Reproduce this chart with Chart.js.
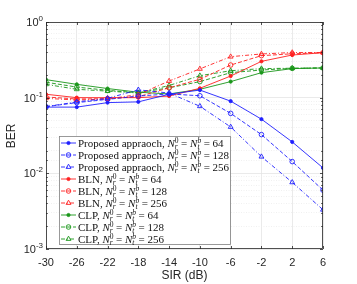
<!DOCTYPE html>
<html lang="en">
<head>
<meta charset="UTF-8">
<title>BER vs SIR</title>
<script src="https://cdn.jsdelivr.net/npm/chart.js@4.4.0/dist/chart.umd.min.js"></script>
<style>
  html, body { margin: 0; padding: 0; background: #fff; }
  #wrap { width: 357px; height: 284px; }
</style>
</head>
<body>
<div id="wrap"><canvas id="ber" width="357" height="284"></canvas></div>
<script>
// SIR values (dB)
const sir = [-30, -26, -22, -18, -14, -10, -6, -2, 2, 6];

// BER
const prop64  = [0.075, 0.075, 0.086, 0.088, 0.111, 0.126, 0.090, 0.052, 0.026, 0.0118];
const prop128 = [0.076, 0.086, 0.095, 0.105, 0.112, 0.106, 0.062, 0.0325, 0.0143, 0.0060];
const prop256 = [0.076, 0.088, 0.098, 0.127, 0.115, 0.077, 0.041, 0.0166, 0.0076, 0.0033];
const bln64   = [0.111, 0.100, 0.100, 0.100, 0.105, 0.133, 0.193, 0.302, 0.366, 0.393];
const bln128  = [0.102, 0.096, 0.097, 0.103, 0.135, 0.175, 0.270, 0.359, 0.380, 0.393];
const bln256  = [0.098, 0.093, 0.096, 0.110, 0.166, 0.240, 0.348, 0.378, 0.395, 0.395];
const clp64   = [0.173, 0.150, 0.132, 0.118, 0.112, 0.129, 0.163, 0.214, 0.242, 0.247];
const clp128  = [0.160, 0.138, 0.125, 0.116, 0.135, 0.163, 0.214, 0.232, 0.244, 0.247];
const clp256  = [0.150, 0.129, 0.122, 0.115, 0.145, 0.195, 0.227, 0.242, 0.245, 0.247];

// legend: method name and antenna count
const methods = ['Proposed appraoch', 'BLN', 'CLP'];
const antennas = [64, 128, 256];

const colors = ['#1f1fff', '#ff2020', '#1a961a'];
const dashes = [[], [4, 2], [4, 2, 1, 2]];
const markers = [
    { pointStyle: 'circle', radius: 1.6, fill: true },
    { pointStyle: 'circle', radius: 2.3, fill: false },
    { pointStyle: 'triangle', radius: 2.8, fill: false }
];
const series = [[prop64, prop128, prop256], [bln64, bln128, bln256], [clp64, clp128, clp256]];

const datasets = [];
methods.forEach((m, i) => {
    antennas.forEach((n, j) => {
        datasets.push({
            label: m + ', ' + n,
            method: m,
            ant: n,
            data: sir.map((x, k) => ({ x: x, y: series[i][j][k] })),
            borderColor: colors[i],
            backgroundColor: markers[j].fill ? colors[i] : 'rgba(255,255,255,0)',
            borderWidth: 0.9,
            borderDash: dashes[j],
            pointStyle: markers[j].pointStyle,
            pointRadius: markers[j].radius,
            pointBorderWidth: 0.9,
            pointBackgroundColor: markers[j].fill ? colors[i] : 'rgba(255,255,255,0)',
            pointBorderColor: colors[i],
            fill: false,
            tension: 0
        });
    });
});

const axisColor = '#262626';
const sansFont = '"Liberation Sans", Arial, sans-serif';
const serifFont = '"Liberation Serif", "Times New Roman", serif';

// axes box, inward ticks, y labels, titles and legend
const matlabLook = {
    id: 'matlabLook',
    afterDraw(chart) {
        const ctx = chart.ctx;
        const a = chart.chartArea;
        const xs = chart.scales.x, ys = chart.scales.y;
        ctx.save();

        // box
        ctx.strokeStyle = axisColor;
        ctx.lineWidth = 0.8;
        ctx.strokeRect(a.left + 0.5, a.top + 0.5, a.right - a.left - 1, a.bottom - a.top - 1);

        // x ticks inward
        ctx.beginPath();
        xs.ticks.forEach(t => {
            const px = Math.round(xs.getPixelForValue(t.value)) + 0.5;
            ctx.moveTo(px, a.bottom); ctx.lineTo(px, a.bottom - 3);
            ctx.moveTo(px, a.top); ctx.lineTo(px, a.top + 3);
        });
        // y ticks inward
        ys.ticks.forEach(t => {
            const py = Math.round(ys.getPixelForValue(t.value)) + 0.5;
            const major = Math.abs(Math.log10(t.value) - Math.round(Math.log10(t.value))) < 1e-6;
            const len = major ? 3 : 1.8;
            ctx.moveTo(a.left, py); ctx.lineTo(a.left + len, py);
            ctx.moveTo(a.right, py); ctx.lineTo(a.right - len, py);
        });
        ctx.stroke();

        // y tick labels 10^k
        ctx.fillStyle = axisColor;
        ctx.textBaseline = 'alphabetic';
        [0, -1, -2, -3].forEach(k => {
            const py = ys.getPixelForValue(Math.pow(10, k));
            ctx.font = '8px ' + sansFont;
            const ew = ctx.measureText(String(k)).width;
            ctx.textAlign = 'right';
            ctx.fillText(String(k), a.left - 3, py - 1);
            ctx.font = '11px ' + sansFont;
            ctx.fillText('10', a.left - 3 - ew, py + 4);
        });

        // axis titles
        ctx.font = '12px ' + sansFont;
        ctx.textAlign = 'center';
        ctx.textBaseline = 'middle';
        ctx.fillText('SIR (dB)', (a.left + a.right) / 2, 276);
        ctx.save();
        ctx.translate(12, 136);
        ctx.rotate(-Math.PI / 2);
        ctx.fillText('BER', 0, 0);
        ctx.restore();

        // legend box
        const lx = 59, ly = 136, lw = 171, lh = 108;
        ctx.fillStyle = '#fff';
        ctx.fillRect(lx, ly, lw, lh);
        ctx.strokeStyle = '#808080';
        ctx.lineWidth = 0.8;
        ctx.strokeRect(lx + 0.5, ly + 0.5, lw, lh);

        chart.data.datasets.forEach((ds, i) => {
            const cy = ly + 7 + i * 12;
            // line sample
            ctx.strokeStyle = ds.borderColor;
            ctx.lineWidth = 0.9;
            ctx.setLineDash(ds.borderDash);
            ctx.beginPath();
            ctx.moveTo(lx + 2, cy); ctx.lineTo(lx + 17, cy);
            ctx.stroke();
            ctx.setLineDash([]);
            // marker
            ctx.fillStyle = ds.pointBackgroundColor;
            ctx.strokeStyle = ds.pointBorderColor;
            ctx.beginPath();
            if (ds.pointStyle === 'circle') {
                ctx.arc(lx + 9.5, cy, ds.pointRadius, 0, Math.PI * 2);
            } else {
                const r = ds.pointRadius;
                ctx.moveTo(lx + 9.5, cy - r);
                ctx.lineTo(lx + 9.5 + r * 0.87, cy + r * 0.5);
                ctx.lineTo(lx + 9.5 - r * 0.87, cy + r * 0.5);
                ctx.closePath();
            }
            ctx.fill(); ctx.stroke();

            // label text with N_r^0 = N_t^b
            ctx.fillStyle = '#111';
            ctx.textAlign = 'left';
            ctx.textBaseline = 'alphabetic';
            let x = lx + 19;
            const base = cy + 3.5;
            const put = (txt, font, dy) => {
                ctx.font = font;
                ctx.fillText(txt, x, base + (dy || 0));
                return ctx.measureText(txt).width;
            };
            const norm = '11px ' + serifFont;
            const ital = 'italic 11px ' + serifFont;
            const small = '7.5px ' + serifFont;
            const smallI = 'italic 7.5px ' + serifFont;
            x += put(ds.method + ', ', norm);
            x += put('N', ital);
            let w1 = put('0', small, -4);
            let w2 = put('r', smallI, 2.5);
            x += Math.max(w1, w2) + 2.5;
            x += put('= ', norm);
            x += put('N', ital);
            w1 = put('b', smallI, -4);
            w2 = put('t', smallI, 2.5);
            x += Math.max(w1, w2) + 2.5;
            x += put('= ' + ds.ant, norm);
        });

        ctx.restore();
    }
};

const ctx = document.getElementById('ber');
new Chart(ctx, {
    type: 'line',
    data: { datasets: datasets },
    plugins: [matlabLook],
    options: {
        responsive: false,
        animation: false,
        layout: { padding: { top: 22, right: 34, left: 0, bottom: 0 } },
        plugins: { legend: { display: false }, tooltip: { enabled: false } },
        scales: {
            x: {
                type: 'linear',
                min: -30, max: 6,
                afterFit: s => { s.height = 35; },
                afterBuildTicks: s => { s.ticks = sir.map(v => ({ value: v })); },
                ticks: {
                    color: axisColor,
                    padding: 7,
                    font: { family: sansFont, size: 11 },
                    maxRotation: 0,
                    autoSkip: false,
                    callback: v => String(v)
                },
                grid: { color: '#e4e4e4', lineWidth: 0.8, drawTicks: false },
                border: { display: false }
            },
            y: {
                type: 'logarithmic',
                min: 0.001, max: 1,
                afterFit: s => { s.width = 46; },
                ticks: { display: false, autoSkip: false },
                grid: {
                    drawTicks: false,
                    lineWidth: 0.8,
                    color: c => {
                        const v = c.tick ? c.tick.value : 1;
                        const l = Math.log10(v);
                        return Math.abs(l - Math.round(l)) < 1e-6 ? '#e4e4e4' : '#ececec';
                    }
                },
                border: {
                    display: false,
                    dash: c => {
                        const v = c.tick ? c.tick.value : 1;
                        const l = Math.log10(v);
                        return Math.abs(l - Math.round(l)) < 1e-6 ? [] : [1, 1.5];
                    }
                }
            }
        }
    }
});
</script>
</body>
</html>
